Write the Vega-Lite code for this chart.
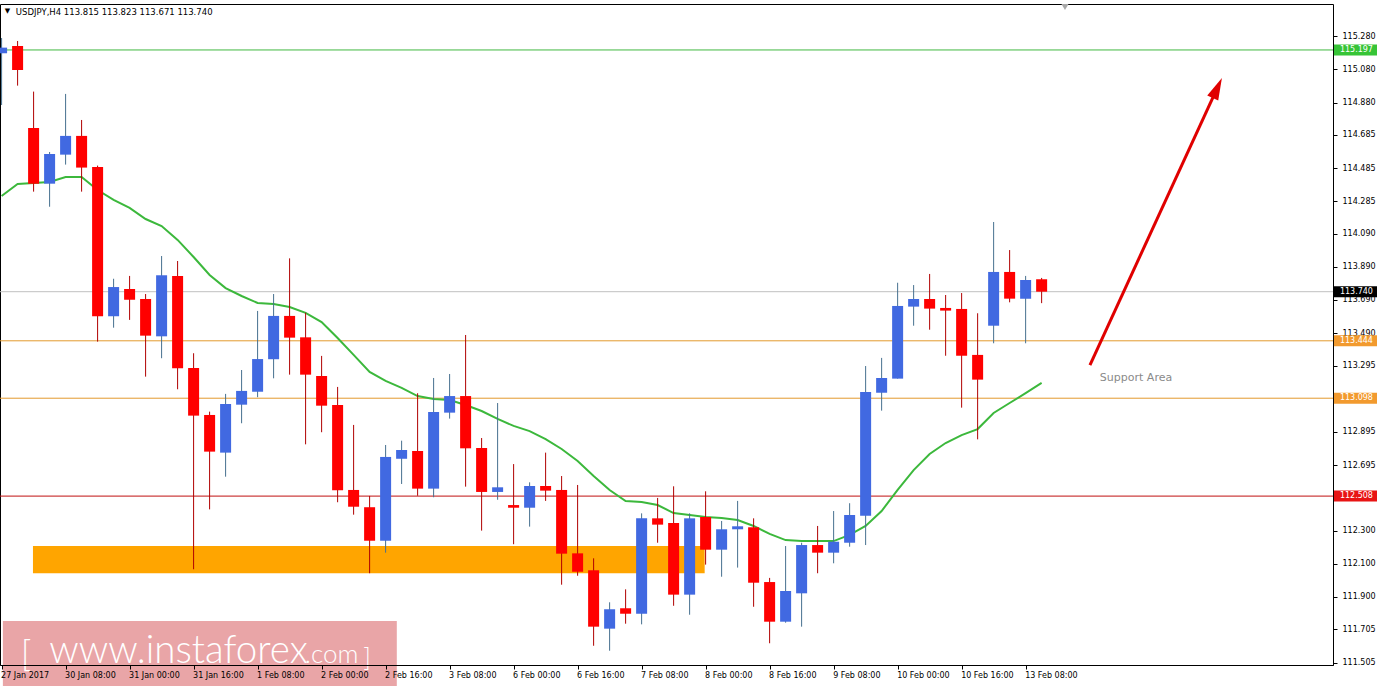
{
  "$schema": "https://vega.github.io/schema/vega-lite/v6.json",
  "width": 1333,
  "height": 661,
  "autosize": {"type": "none"},
  "padding": {"left": 0, "top": 4, "right": 44, "bottom": 25},
  "background": "#ffffff",
  "config": {
    "view": {"stroke": "#000000", "strokeWidth": 1},
    "axis": {"grid": false, "labelOverlap": false},
    "scale": {"continuousPadding": 0}
  },
  "datasets": {
    "candles": [
      {"i":0,"o":115.177,"h":115.269,"l":114.865,"c":115.211},
      {"i":1,"o":115.221,"h":115.251,"l":114.982,"c":115.076},
      {"i":2,"o":114.727,"h":114.946,"l":114.343,"c":114.391},
      {"i":3,"o":114.391,"h":114.582,"l":114.252,"c":114.570},
      {"i":4,"o":114.566,"h":114.932,"l":114.506,"c":114.679},
      {"i":5,"o":114.679,"h":114.775,"l":114.343,"c":114.488},
      {"i":6,"o":114.492,"h":114.500,"l":113.439,"c":113.592},
      {"i":7,"o":113.592,"h":113.818,"l":113.523,"c":113.768},
      {"i":8,"o":113.756,"h":113.835,"l":113.570,"c":113.692},
      {"i":9,"o":113.696,"h":113.726,"l":113.228,"c":113.475},
      {"i":10,"o":113.471,"h":113.955,"l":113.339,"c":113.839},
      {"i":11,"o":113.835,"h":113.925,"l":113.152,"c":113.278},
      {"i":12,"o":113.280,"h":113.369,"l":112.067,"c":112.993},
      {"i":13,"o":112.997,"h":113.017,"l":112.428,"c":112.776},
      {"i":14,"o":112.770,"h":113.124,"l":112.625,"c":113.063},
      {"i":15,"o":113.059,"h":113.268,"l":112.947,"c":113.142},
      {"i":16,"o":113.137,"h":113.624,"l":113.104,"c":113.334},
      {"i":17,"o":113.333,"h":113.726,"l":113.218,"c":113.594},
      {"i":18,"o":113.594,"h":113.941,"l":113.240,"c":113.463},
      {"i":19,"o":113.465,"h":113.613,"l":112.820,"c":113.240},
      {"i":20,"o":113.232,"h":113.353,"l":112.893,"c":113.053},
      {"i":21,"o":113.057,"h":113.166,"l":112.471,"c":112.543},
      {"i":22,"o":112.545,"h":112.937,"l":112.396,"c":112.444},
      {"i":23,"o":112.441,"h":112.509,"l":112.043,"c":112.239},
      {"i":24,"o":112.239,"h":112.816,"l":112.167,"c":112.744},
      {"i":25,"o":112.733,"h":112.842,"l":112.581,"c":112.786},
      {"i":26,"o":112.780,"h":113.128,"l":112.510,"c":112.553},
      {"i":27,"o":112.553,"h":113.220,"l":112.501,"c":113.015},
      {"i":28,"o":113.011,"h":113.244,"l":112.975,"c":113.111},
      {"i":29,"o":113.111,"h":113.479,"l":112.565,"c":112.796},
      {"i":30,"o":112.798,"h":112.858,"l":112.300,"c":112.533},
      {"i":31,"o":112.533,"h":113.069,"l":112.486,"c":112.561},
      {"i":32,"o":112.454,"h":112.701,"l":112.218,"c":112.438},
      {"i":33,"o":112.438,"h":112.591,"l":112.324,"c":112.569},
      {"i":34,"o":112.569,"h":112.770,"l":112.479,"c":112.541},
      {"i":35,"o":112.545,"h":112.629,"l":111.974,"c":112.161},
      {"i":36,"o":112.163,"h":112.575,"l":112.028,"c":112.052},
      {"i":37,"o":112.061,"h":112.133,"l":111.606,"c":111.721},
      {"i":38,"o":111.709,"h":111.868,"l":111.576,"c":111.826},
      {"i":39,"o":111.832,"h":111.946,"l":111.739,"c":111.799},
      {"i":40,"o":111.799,"h":112.404,"l":111.735,"c":112.374},
      {"i":41,"o":112.374,"h":112.497,"l":112.227,"c":112.336},
      {"i":42,"o":112.346,"h":112.567,"l":111.847,"c":111.914},
      {"i":43,"o":111.914,"h":112.404,"l":111.793,"c":112.374},
      {"i":44,"o":112.382,"h":112.537,"l":112.095,"c":112.185},
      {"i":45,"o":112.185,"h":112.358,"l":112.022,"c":112.308},
      {"i":46,"o":112.308,"h":112.479,"l":112.077,"c":112.326},
      {"i":47,"o":112.320,"h":112.374,"l":111.841,"c":111.986},
      {"i":48,"o":111.990,"h":112.015,"l":111.621,"c":111.751},
      {"i":49,"o":111.751,"h":112.207,"l":111.745,"c":111.936},
      {"i":50,"o":111.922,"h":112.227,"l":111.721,"c":112.213},
      {"i":51,"o":112.213,"h":112.328,"l":112.043,"c":112.167},
      {"i":52,"o":112.167,"h":112.418,"l":112.103,"c":112.233},
      {"i":53,"o":112.227,"h":112.465,"l":112.203,"c":112.394},
      {"i":54,"o":112.390,"h":113.292,"l":112.213,"c":113.136},
      {"i":55,"o":113.131,"h":113.341,"l":113.023,"c":113.220},
      {"i":56,"o":113.216,"h":113.794,"l":113.216,"c":113.654},
      {"i":57,"o":113.650,"h":113.780,"l":113.535,"c":113.696},
      {"i":58,"o":113.696,"h":113.847,"l":113.511,"c":113.638},
      {"i":59,"o":113.642,"h":113.720,"l":113.354,"c":113.626},
      {"i":60,"o":113.636,"h":113.732,"l":113.041,"c":113.354},
      {"i":61,"o":113.359,"h":113.610,"l":112.850,"c":113.210},
      {"i":62,"o":113.535,"h":114.160,"l":113.429,"c":113.859},
      {"i":63,"o":113.859,"h":113.991,"l":113.676,"c":113.698},
      {"i":64,"o":113.698,"h":113.835,"l":113.429,"c":113.811},
      {"i":65,"o":113.815,"h":113.823,"l":113.671,"c":113.740}
    ],
    "ma": [
      {"i":0,"ma":114.317},{"i":1,"ma":114.389},{"i":2,"ma":114.395},{"i":3,"ma":114.401},
      {"i":4,"ma":114.431},{"i":5,"ma":114.431},{"i":6,"ma":114.353},{"i":7,"ma":114.293},
      {"i":8,"ma":114.245},{"i":9,"ma":114.178},{"i":10,"ma":114.136},{"i":11,"ma":114.052},
      {"i":12,"ma":113.949},{"i":13,"ma":113.841},{"i":14,"ma":113.762},{"i":15,"ma":113.714},
      {"i":16,"ma":113.672},{"i":17,"ma":113.666},{"i":18,"ma":113.648},{"i":19,"ma":113.612},
      {"i":20,"ma":113.557},{"i":21,"ma":113.461},{"i":22,"ma":113.359},{"i":23,"ma":113.256},
      {"i":24,"ma":113.202},{"i":25,"ma":113.160},{"i":26,"ma":113.111},{"i":27,"ma":113.093},
      {"i":28,"ma":113.087},{"i":29,"ma":113.057},{"i":30,"ma":113.021},{"i":31,"ma":112.973},
      {"i":32,"ma":112.931},{"i":33,"ma":112.900},{"i":34,"ma":112.852},{"i":35,"ma":112.792},
      {"i":36,"ma":112.720},{"i":37,"ma":112.629},{"i":38,"ma":112.545},{"i":39,"ma":112.478},
      {"i":40,"ma":112.472},{"i":41,"ma":112.454},{"i":42,"ma":112.406},{"i":43,"ma":112.394},
      {"i":44,"ma":112.382},{"i":45,"ma":112.376},{"i":46,"ma":112.364},{"i":47,"ma":112.328},
      {"i":48,"ma":112.280},{"i":49,"ma":112.243},{"i":50,"ma":112.237},{"i":51,"ma":112.237},
      {"i":52,"ma":112.237},{"i":53,"ma":112.274},{"i":54,"ma":112.328},{"i":55,"ma":112.418},
      {"i":56,"ma":112.545},{"i":57,"ma":112.665},{"i":58,"ma":112.762},{"i":59,"ma":112.828},
      {"i":60,"ma":112.876},{"i":61,"ma":112.912},{"i":62,"ma":113.009},{"i":63,"ma":113.069},
      {"i":64,"ma":113.129},{"i":65,"ma":113.190}
    ],
    "levels": [
      {"price":115.197,"kind":"resistance"},
      {"price":113.740,"kind":"current"},
      {"price":113.444,"kind":"support1"},
      {"price":113.098,"kind":"support2"},
      {"price":112.508,"kind":"pivot"}
    ],
    "zone": [
      {"start":1.96,"end":43.94,"lo":112.043,"hi":112.207}
    ]
  },
  "layer": [
    {
      "data": {"values": [{"t":"watermark"}]},
      "mark": {"type": "rect", "fill": "#e9a5a7", "clip": false},
      "encoding": {
        "x": {"datum": 0.08, "type": "quantitative", "title": null, "scale": {"domain": [-0.1, 83.21], "nice": false, "zero": false, "padding": 0}},
        "x2": {"datum": 24.7},
        "y": {"datum": 111.755, "type": "quantitative", "title": null, "scale": {"domain": [111.49, 115.474], "nice": false, "zero": false}},
        "y2": {"datum": 111.363}
      }
    },
    {
      "data": {"values": [{"t":"["}]},
      "mark": {"type": "text", "font": "Lato", "fontWeight": 300, "fontSize": 36, "align": "left", "baseline": "alphabetic", "fill": "#ffffff", "clip": false},
      "encoding": {
        "x": {"datum": 1.2, "type": "quantitative", "title": null, "scale": {"domain": [-0.1, 83.21], "nice": false, "zero": false, "padding": 0}},
        "y": {"datum": 111.486, "type": "quantitative", "title": null, "scale": {"domain": [111.49, 115.474], "nice": false, "zero": false}},
        "text": {"field": "t"}
      }
    },
    {
      "data": {"values": [{"t":"www.instaforex"}]},
      "mark": {"type": "text", "font": "Lato", "fontWeight": 300, "fontSize": 38.5, "align": "left", "baseline": "alphabetic", "fill": "#ffffff", "clip": false},
      "encoding": {
        "x": {"datum": 2.98, "type": "quantitative", "title": null, "scale": {"domain": [-0.1, 83.21], "nice": false, "zero": false, "padding": 0}},
        "y": {"datum": 111.5, "type": "quantitative", "title": null, "scale": {"domain": [111.49, 115.474], "nice": false, "zero": false}},
        "text": {"field": "t"}
      }
    },
    {
      "data": {"values": [{"t":".com"}]},
      "mark": {"type": "text", "font": "Lato", "fontWeight": 300, "fontSize": 26, "align": "left", "baseline": "alphabetic", "fill": "#ffffff", "clip": false},
      "encoding": {
        "x": {"datum": 18.95, "type": "quantitative", "title": null, "scale": {"domain": [-0.1, 83.21], "nice": false, "zero": false, "padding": 0}},
        "y": {"datum": 111.5, "type": "quantitative", "title": null, "scale": {"domain": [111.49, 115.474], "nice": false, "zero": false}},
        "text": {"field": "t"}
      }
    },
    {
      "data": {"values": [{"t":"]"}]},
      "mark": {"type": "text", "font": "Lato", "fontWeight": 300, "fontSize": 26, "align": "left", "baseline": "alphabetic", "fill": "#ffffff", "clip": false},
      "encoding": {
        "x": {"datum": 22.6, "type": "quantitative", "title": null, "scale": {"domain": [-0.1, 83.21], "nice": false, "zero": false, "padding": 0}},
        "y": {"datum": 111.476, "type": "quantitative", "title": null, "scale": {"domain": [111.49, 115.474], "nice": false, "zero": false}},
        "text": {"field": "t"}
      }
    },
    {
      "data": {"name": "zone"},
      "mark": {"type": "rect", "fill": "#ffa500", "clip": true},
      "encoding": {
        "x": {"field": "start", "type": "quantitative", "title": null, "scale": {"domain": [-0.1, 83.21], "nice": false, "zero": false, "padding": 0}},
        "x2": {"field": "end"},
        "y": {"field": "lo", "type": "quantitative", "title": null, "scale": {"domain": [111.49, 115.474], "nice": false, "zero": false}},
        "y2": {"field": "hi"}
      }
    },
    {
      "data": {"name": "levels"},
      "mark": {"type": "rule", "strokeWidth": 1, "clip": true},
      "encoding": {
        "y": {"field": "price", "type": "quantitative", "title": null, "scale": {"domain": [111.49, 115.474], "nice": false, "zero": false}},
        "color": {"field": "kind", "type": "nominal", "legend": null,
          "scale": {"domain": ["resistance","current","support1","support2","pivot"], "range": ["#40b840","#c0c0c0","#e39a2e","#e39a2e","#c01010"]}}
      }
    },
    {
      "data": {"name": "ma"},
      "mark": {"type": "line", "stroke": "#3cb83c", "strokeWidth": 2, "clip": true},
      "encoding": {
        "x": {"field": "i", "type": "quantitative", "title": null, "scale": {"domain": [-0.1, 83.21], "nice": false, "zero": false, "padding": 0}},
        "y": {"field": "ma", "type": "quantitative", "title": null, "scale": {"domain": [111.49, 115.474], "nice": false, "zero": false}}
      }
    },
    {
      "data": {"name": "candles"},
      "mark": {"type": "rule", "strokeWidth": 1, "clip": true},
      "encoding": {
        "x": {"field": "i", "type": "quantitative", "title": null, "scale": {"domain": [-0.1, 83.21], "nice": false, "zero": false, "padding": 0},
          "axis": {"values": [0,4,8,12,16,20,24,28,32,36,40,44,48,52,56,60,64], "tickCount": 40,
            "labelExpr": "['27 Jan 2017','30 Jan 08:00','31 Jan 00:00','31 Jan 16:00','1 Feb 08:00','2 Feb 00:00','2 Feb 16:00','3 Feb 08:00','6 Feb 00:00','6 Feb 16:00','7 Feb 08:00','8 Feb 00:00','8 Feb 16:00','9 Feb 08:00','10 Feb 00:00','10 Feb 16:00','13 Feb 08:00'][round(datum.value/4)]",
            "labelAlign": "left", "labelBaseline": "top", "labelPadding": 2, "labelOffset": -1, "tickSize": 4, "tickColor": "#000000",
            "domain": true, "domainColor": "#000000", "labelFont": "DejaVu Sans", "labelFontSize": 8, "labelColor": "#000000",
            "labelOverlap": false, "labelBound": false, "labelFlush": false, "grid": false, "zindex": 1, "title": null}},
        "y": {"field": "l", "type": "quantitative", "title": null, "scale": {"domain": [111.49, 115.474], "nice": false, "zero": false},
          "axis": {"orient": "right", "values": [115.28,115.08,114.88,114.685,114.485,114.285,114.09,113.89,113.69,113.49,113.295,113.095,112.895,112.695,112.5,112.3,112.1,111.9,111.705,111.505], "tickCount": 40,
            "format": ".3f", "labelPadding": 5, "tickSize": 4, "tickColor": "#000000", "domain": false,
            "labelFont": "DejaVu Sans", "labelFontSize": 8, "labelColor": "#000000", "labelOverlap": false, "labelBound": false, "labelFlush": false, "grid": false, "title": null}},
        "y2": {"field": "h"},
        "stroke": {"condition": {"test": "datum.c >= datum.o", "value": "#46708f"}, "value": "#b00000"}
      }
    },
    {
      "data": {"name": "candles"},
      "mark": {"type": "bar", "width": 11, "clip": true},
      "encoding": {
        "x": {"field": "i", "type": "quantitative", "title": null, "scale": {"domain": [-0.1, 83.21], "nice": false, "zero": false, "padding": 0}},
        "y": {"field": "o", "type": "quantitative", "title": null, "scale": {"domain": [111.49, 115.474], "nice": false, "zero": false}},
        "y2": {"field": "c"},
        "fill": {"condition": {"test": "datum.c >= datum.o", "value": "#4169e1"}, "value": "#ff0000"}
      }
    },
    {
      "data": {"values": [{"t":"arrow"}]},
      "mark": {"type": "rule", "stroke": "#e00000", "strokeWidth": 3, "strokeCap": "butt", "clip": false},
      "encoding": {
        "x": {"datum": 68.02, "type": "quantitative", "title": null, "scale": {"domain": [-0.1, 83.21], "nice": false, "zero": false, "padding": 0}},
        "y": {"datum": 113.298, "type": "quantitative", "title": null, "scale": {"domain": [111.49, 115.474], "nice": false, "zero": false}},
        "x2": {"datum": 75.98},
        "y2": {"datum": 114.968}
      }
    },
    {
      "data": {"values": [{"t":"arrowhead"}]},
      "mark": {"type": "point", "shape": "M0,-1L0.55,1L-0.55,1Z", "size": 484, "angle": 24.7, "filled": true, "fill": "#e00000", "opacity": 1, "strokeWidth": 0, "clip": false},
      "encoding": {
        "x": {"datum": 75.98, "type": "quantitative", "title": null, "scale": {"domain": [-0.1, 83.21], "nice": false, "zero": false, "padding": 0}},
        "y": {"datum": 114.968, "type": "quantitative", "title": null, "scale": {"domain": [111.49, 115.474], "nice": false, "zero": false}}
      }
    },
    {
      "data": {"values": [{"t":"Support Area"}]},
      "mark": {"type": "text", "font": "DejaVu Sans", "fontSize": 11, "align": "left", "baseline": "middle", "fill": "#8a8a8a"},
      "encoding": {
        "x": {"datum": 68.64, "type": "quantitative", "title": null, "scale": {"domain": [-0.1, 83.21], "nice": false, "zero": false, "padding": 0}},
        "y": {"datum": 113.22, "type": "quantitative", "title": null, "scale": {"domain": [111.49, 115.474], "nice": false, "zero": false}},
        "text": {"field": "t"}
      }
    },
    {
      "data": {"values": [{"t":"shift"}]},
      "mark": {"type": "point", "shape": "triangle-down", "size": 50, "filled": true, "fill": "#a8a8a8", "opacity": 1, "strokeWidth": 0},
      "encoding": {
        "x": {"datum": 66.46, "type": "quantitative", "title": null, "scale": {"domain": [-0.1, 83.21], "nice": false, "zero": false, "padding": 0}},
        "y": {"datum": 115.456, "type": "quantitative", "title": null, "scale": {"domain": [111.49, 115.474], "nice": false, "zero": false}}
      }
    },
    {
      "data": {"values": [{"t":"▼"}]},
      "mark": {"type": "text", "font": "DejaVu Sans", "fontSize": 7, "align": "center", "baseline": "middle", "fill": "#000000"},
      "encoding": {
        "x": {"datum": 0.36, "type": "quantitative", "title": null, "scale": {"domain": [-0.1, 83.21], "nice": false, "zero": false, "padding": 0}},
        "y": {"datum": 115.432, "type": "quantitative", "title": null, "scale": {"domain": [111.49, 115.474], "nice": false, "zero": false}},
        "text": {"field": "t"}
      }
    },
    {
      "data": {"values": [{"t":"USDJPY,H4  113.815 113.823 113.671 113.740"}]},
      "mark": {"type": "text", "font": "DejaVu Sans", "fontSize": 8.5, "align": "left", "baseline": "middle", "fill": "#000000"},
      "encoding": {
        "x": {"datum": 0.89, "type": "quantitative", "title": null, "scale": {"domain": [-0.1, 83.21], "nice": false, "zero": false, "padding": 0}},
        "y": {"datum": 115.426, "type": "quantitative", "title": null, "scale": {"domain": [111.49, 115.474], "nice": false, "zero": false}},
        "text": {"field": "t"}
      }
    },
    {
      "data": {"name": "levels"},
      "mark": {"type": "rule", "strokeWidth": 11, "strokeCap": "butt", "clip": false},
      "encoding": {
        "x": {"datum": 83.27, "type": "quantitative", "title": null, "scale": {"domain": [-0.1, 83.21], "nice": false, "zero": false, "padding": 0}},
        "x2": {"datum": 85.96},
        "y": {"field": "price", "type": "quantitative", "title": null, "scale": {"domain": [111.49, 115.474], "nice": false, "zero": false}},
        "stroke": {"field": "kind", "type": "nominal", "legend": null,
          "scale": {"domain": ["resistance","current","support1","support2","pivot"], "range": ["#36c436","#000000","#f29a2e","#f29a2e","#e81414"]}}
      }
    },
    {
      "data": {"name": "levels"},
      "mark": {"type": "text", "font": "DejaVu Sans", "fontSize": 8, "align": "left", "baseline": "middle", "fill": "#ffffff", "clip": false},
      "encoding": {
        "x": {"datum": 83.64, "type": "quantitative", "title": null, "scale": {"domain": [-0.1, 83.21], "nice": false, "zero": false, "padding": 0}},
        "y": {"field": "price", "type": "quantitative", "title": null, "scale": {"domain": [111.49, 115.474], "nice": false, "zero": false}},
        "text": {"field": "price", "type": "quantitative", "format": ".3f"}
      }
    }
  ],
  "resolve": {"scale": {"color": "independent", "stroke": "independent"}}
}
